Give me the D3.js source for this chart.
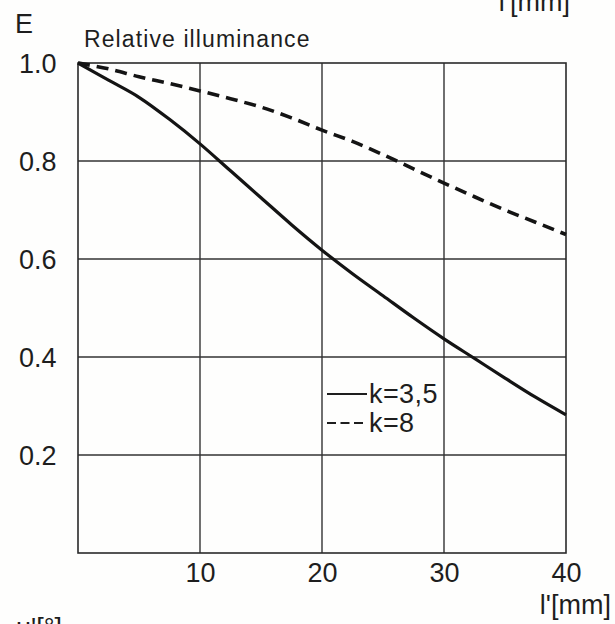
<!DOCTYPE html>
<html>
<head>
<meta charset="utf-8">
<script src="https://cdn.jsdelivr.net/npm/d3@7"></script>
<style>
  html, body { margin: 0; padding: 0; background: #fefefd; }
  svg { display: block; }
  .din { font-family: "Liberation Sans", Arial, sans-serif; fill: #1e1e1e; }
</style>
</head>
<body>
<script>
var width = 615;
var height = 624;

// l' in mm
var xValues = [0, 2.5, 5, 7.5, 10, 12.5, 15, 17.5, 20, 22.5, 25, 27.5, 30, 32.5, 35, 37.5, 40];
// k = 3,5 (solid)
var k35 = [1.0, 0.965, 0.93, 0.885, 0.835, 0.78, 0.725, 0.67, 0.618, 0.57, 0.525, 0.48, 0.437, 0.397, 0.357, 0.318, 0.282];
// k = 8 (dashed)
var k8 = [1.0, 0.988, 0.972, 0.958, 0.943, 0.927, 0.91, 0.888, 0.863, 0.84, 0.813, 0.784, 0.755, 0.727, 0.70, 0.675, 0.65];

var xTicks = [10, 20, 30, 40];
var yTicks = [0.2, 0.4, 0.6, 0.8, 1.0];
var legendLabels = ["k=3,5", "k=8"];

var margin = {left: 78, right: 49, top: 63, bottom: 71};

var x = d3.scaleLinear().domain([0, 40]).range([margin.left, width - margin.right]);
var y = d3.scaleLinear().domain([0, 1]).range([height - margin.bottom, margin.top]);

var svg = d3.select("body").append("svg").attr("width", width).attr("height", height);

// grid
svg.append("g").selectAll("line").data(xTicks.slice(0, 3)).enter().append("line")
    .attr("x1", function (d) { return x(d); }).attr("x2", function (d) { return x(d); })
    .attr("y1", y(0)).attr("y2", y(1))
    .attr("stroke", "#333").attr("stroke-width", 1.4);

svg.append("g").selectAll("line").data(yTicks.slice(0, 4)).enter().append("line")
    .attr("x1", x(0)).attr("x2", x(40))
    .attr("y1", function (d) { return y(d); }).attr("y2", function (d) { return y(d); })
    .attr("stroke", "#333").attr("stroke-width", 1.4);

svg.append("rect")
    .attr("x", x(0)).attr("y", y(1))
    .attr("width", x(40) - x(0)).attr("height", y(0) - y(1))
    .attr("fill", "none").attr("stroke", "#2a2a2a").attr("stroke-width", 1.6);

// axes (labels only)
var yAxis = svg.append("g").attr("transform", "translate(" + margin.left + ",0)")
    .call(d3.axisLeft(y).tickValues(yTicks).tickSize(0).tickFormat(d3.format(".1f")));
yAxis.select(".domain").remove();
yAxis.selectAll("text").attr("class", "din").attr("x", -59).attr("text-anchor", "start")
    .attr("dy", "0.36em").attr("font-size", 27);

var xAxis = svg.append("g").attr("transform", "translate(0," + y(0) + ")")
    .call(d3.axisBottom(x).tickValues(xTicks).tickSize(0).tickFormat(d3.format("d")));
xAxis.select(".domain").remove();
xAxis.selectAll("text").attr("class", "din").attr("y", 29).attr("dy", 0)
    .attr("font-size", 27);

// curves
var line = d3.line()
    .x(function (d, i) { return x(xValues[i]); })
    .y(function (d) { return y(d); })
    .curve(d3.curveMonotoneX);

svg.append("path").datum(k35).attr("d", line)
    .attr("fill", "none").attr("stroke", "#141414").attr("stroke-width", 3.2);

svg.append("path").datum(k8).attr("d", line)
    .attr("fill", "none").attr("stroke", "#141414").attr("stroke-width", 3.6)
    .attr("stroke-dasharray", "12,7");

// legend
var legend = svg.append("g");
legend.append("line").attr("x1", 327).attr("x2", 367).attr("y1", 394).attr("y2", 394)
    .attr("stroke", "#1e1e1e").attr("stroke-width", 1.8);
legend.append("line").attr("x1", 327).attr("x2", 367).attr("y1", 423).attr("y2", 423)
    .attr("stroke", "#1e1e1e").attr("stroke-width", 1.8).attr("stroke-dasharray", "9,4.5");
legend.selectAll("text").data(legendLabels).enter().append("text")
    .attr("class", "din")
    .attr("x", 369).attr("y", function (d, i) { return 403 + i * 29; })
    .attr("font-size", 27).attr("letter-spacing", 0.4)
    .text(function (d) { return d; });

// titles
svg.append("text").attr("class", "din").attr("x", 15).attr("y", 33)
    .attr("font-size", 27).text("E");

svg.append("text").attr("x", 84).attr("y", 47)
    .attr("font-family", "Liberation Sans, Arial, sans-serif").attr("font-size", 23)
    .attr("letter-spacing", 1.1).attr("fill", "#1e1e1e")
    .text("Relative illuminance");

svg.append("text").attr("class", "din").attr("x", 611).attr("y", 614)
    .attr("text-anchor", "end").attr("font-size", 27)
    .text("l'[mm]");

// cut-off labels from neighbouring figures on the page
svg.append("text").attr("class", "din").attr("x", 570).attr("y", 11)
    .attr("text-anchor", "end").attr("font-size", 27)
    .text("l'[mm]");

svg.append("text").attr("class", "din").attr("x", 16).attr("y", 637)
    .attr("font-size", 27)
    .text("u'[°]");
</script>
</body>
</html>
